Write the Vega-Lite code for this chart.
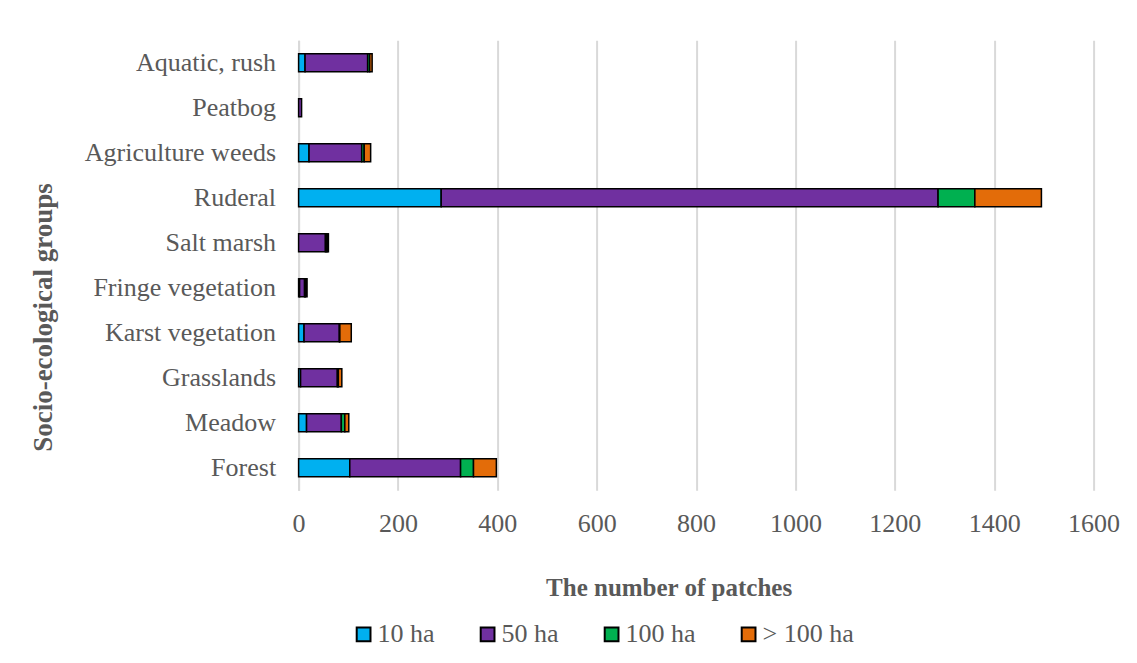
{
  "$schema": "https://vega.github.io/schema/vega-lite/v6.json",
  "width": 795,
  "height": 450,
  "autosize": {"type": "none"},
  "padding": {"left": 298.6, "top": 40.3, "right": 43.4, "bottom": 172.7},
  "background": "white",
  "config": {
    "font": "Liberation Serif",
    "axis": {"labelFont": "Liberation Serif", "titleFont": "Liberation Serif"},
    "legend": {"labelFont": "Liberation Serif", "titleFont": "Liberation Serif"},
    "view": {"stroke": null}
  },
  "data": {
    "values": [
      {"group": "Aquatic, rush", "size": "10 ha", "ord": 1, "count": 13},
      {"group": "Aquatic, rush", "size": "50 ha", "ord": 2, "count": 126},
      {"group": "Aquatic, rush", "size": "100 ha", "ord": 3, "count": 4},
      {"group": "Aquatic, rush", "size": "> 100 ha", "ord": 4, "count": 5},
      {"group": "Peatbog", "size": "50 ha", "ord": 2, "count": 6},
      {"group": "Agriculture weeds", "size": "10 ha", "ord": 1, "count": 21},
      {"group": "Agriculture weeds", "size": "50 ha", "ord": 2, "count": 106},
      {"group": "Agriculture weeds", "size": "100 ha", "ord": 3, "count": 5},
      {"group": "Agriculture weeds", "size": "> 100 ha", "ord": 4, "count": 13},
      {"group": "Ruderal", "size": "10 ha", "ord": 1, "count": 287},
      {"group": "Ruderal", "size": "50 ha", "ord": 2, "count": 1000},
      {"group": "Ruderal", "size": "100 ha", "ord": 3, "count": 74},
      {"group": "Ruderal", "size": "> 100 ha", "ord": 4, "count": 134},
      {"group": "Salt marsh", "size": "50 ha", "ord": 2, "count": 54},
      {"group": "Salt marsh", "size": "100 ha", "ord": 3, "count": 3},
      {"group": "Salt marsh", "size": "> 100 ha", "ord": 4, "count": 3},
      {"group": "Fringe vegetation", "size": "10 ha", "ord": 1, "count": 2},
      {"group": "Fringe vegetation", "size": "50 ha", "ord": 2, "count": 10},
      {"group": "Fringe vegetation", "size": "100 ha", "ord": 3, "count": 2},
      {"group": "Fringe vegetation", "size": "> 100 ha", "ord": 4, "count": 3},
      {"group": "Karst vegetation", "size": "10 ha", "ord": 1, "count": 11},
      {"group": "Karst vegetation", "size": "50 ha", "ord": 2, "count": 71},
      {"group": "Karst vegetation", "size": "100 ha", "ord": 3, "count": 1},
      {"group": "Karst vegetation", "size": "> 100 ha", "ord": 4, "count": 23},
      {"group": "Grasslands", "size": "10 ha", "ord": 1, "count": 4},
      {"group": "Grasslands", "size": "50 ha", "ord": 2, "count": 74},
      {"group": "Grasslands", "size": "100 ha", "ord": 3, "count": 2},
      {"group": "Grasslands", "size": "> 100 ha", "ord": 4, "count": 7},
      {"group": "Meadow", "size": "10 ha", "ord": 1, "count": 16},
      {"group": "Meadow", "size": "50 ha", "ord": 2, "count": 70},
      {"group": "Meadow", "size": "100 ha", "ord": 3, "count": 7},
      {"group": "Meadow", "size": "> 100 ha", "ord": 4, "count": 8},
      {"group": "Forest", "size": "10 ha", "ord": 1, "count": 103},
      {"group": "Forest", "size": "50 ha", "ord": 2, "count": 223},
      {"group": "Forest", "size": "100 ha", "ord": 3, "count": 26},
      {"group": "Forest", "size": "> 100 ha", "ord": 4, "count": 46}
    ]
  },
  "mark": {"type": "bar", "stroke": "black", "strokeWidth": 1.5, "size": 18},
  "encoding": {
    "y": {
      "field": "group",
      "type": "nominal",
      "sort": ["Aquatic, rush", "Peatbog", "Agriculture weeds", "Ruderal", "Salt marsh", "Fringe vegetation", "Karst vegetation", "Grasslands", "Meadow", "Forest"],
      "axis": {
        "title": "Socio-ecological groups",
        "titleFont": "Liberation Serif",
        "titleFontSize": 27,
        "titleFontWeight": "bold",
        "titleColor": "#595959",
        "titleAngle": -90,
        "titleX": -247.6,
        "titleY": 276.7,
        "titleAlign": "center",
        "titleBaseline": "alphabetic",
        "labelFont": "Liberation Serif",
        "labelFontSize": 26,
        "labelColor": "#595959",
        "labelPadding": 23,
        "labelLimit": 0,
        "ticks": false,
        "domain": true,
        "domainColor": "#d9d9d9",
        "domainWidth": 2
      }
    },
    "x": {
      "field": "count",
      "type": "quantitative",
      "stack": "zero",
      "scale": {"domain": [0, 1600], "nice": false},
      "axis": {
        "values": [0, 200, 400, 600, 800, 1000, 1200, 1400, 1600],
        "format": "d",
        "grid": true,
        "gridColor": "#d9d9d9",
        "gridWidth": 2,
        "domain": false,
        "ticks": false,
        "labelFlush": false,
        "labelFont": "Liberation Serif",
        "labelFontSize": 26,
        "labelColor": "#595959",
        "labelPadding": 20,
        "title": "The number of patches",
        "titleFont": "Liberation Serif",
        "titleFontSize": 25,
        "titleFontWeight": "bold",
        "titleColor": "#595959",
        "titleX": 370,
        "titleY": 105,
        "titleAlign": "center",
        "titleBaseline": "alphabetic"
      }
    },
    "color": {
      "field": "size",
      "type": "nominal",
      "scale": {
        "domain": ["10 ha", "50 ha", "100 ha", "> 100 ha"],
        "range": ["#00B0F0", "#7030A0", "#00B050", "#E36C09"]
      },
      "legend": {
        "title": null,
        "orient": "none",
        "legendX": 52,
        "legendY": 581,
        "direction": "horizontal",
        "symbolType": "square",
        "symbolSize": 190,
        "symbolStrokeColor": "black",
        "symbolStrokeWidth": 2,
        "symbolOpacity": 1,
        "labelFont": "Liberation Serif",
        "labelFontSize": 26,
        "labelColor": "#595959",
        "labelOffset": 1,
        "labelLimit": 0,
        "columnPadding": 39
      }
    },
    "order": {"field": "ord", "type": "quantitative"}
  }
}
